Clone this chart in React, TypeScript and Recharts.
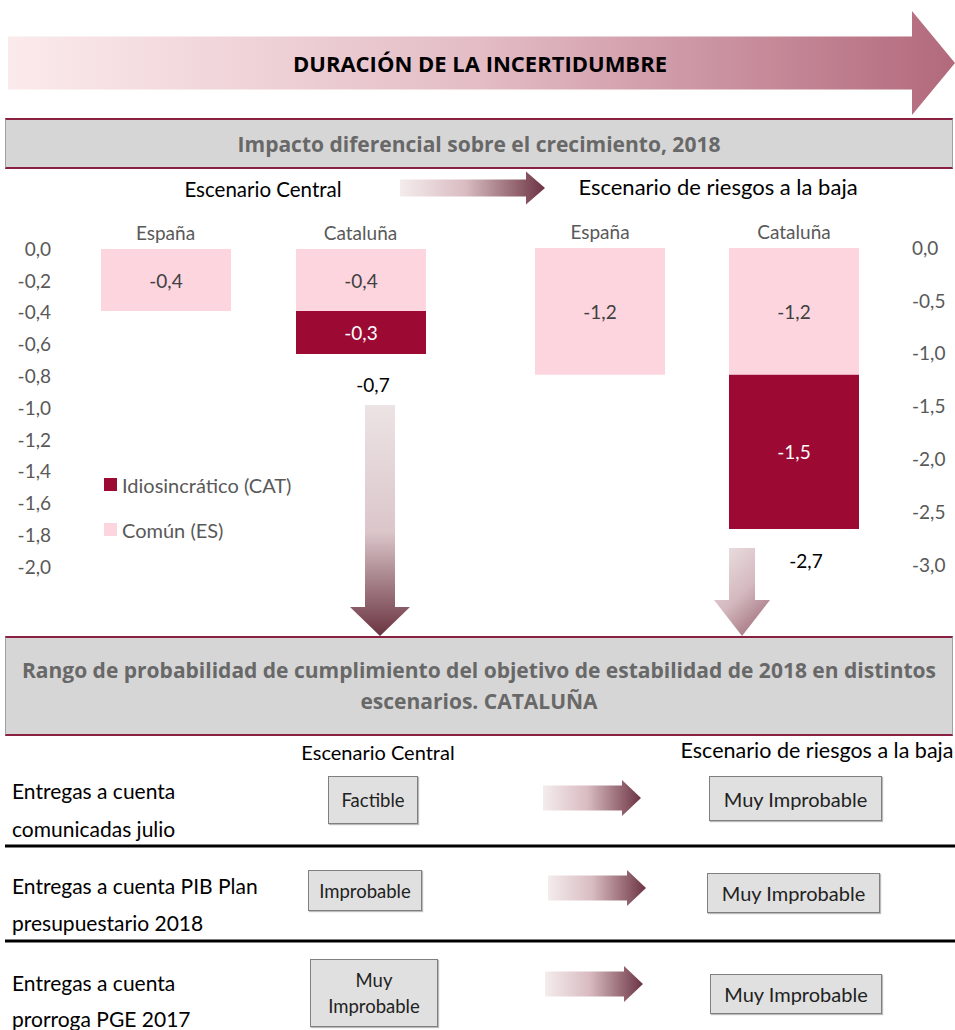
import { BarChart, Bar, XAxis, YAxis, LabelList, Legend } from 'recharts';

const FONT = 'Lato, "Open Sans", sans-serif';
const HEAD_FONT = '"Open Sans", Lato, sans-serif';
const PINK = '#fcd5df';
const WINE = '#9c0a33';
const GREY_TXT = '#595959';

// Impacto diferencial sobre el crecimiento, 2018 (pp)
const categories = ['España', 'Cataluña'];
const centralComun = [-0.39, -0.39];
const centralIdio = [null, -0.27];
const riesgosComun = [-1.2, -1.2];
const riesgosIdio = [null, -1.46];
const centralTicks = [0, -0.2, -0.4, -0.6, -0.8, -1, -1.2, -1.4, -1.6, -1.8, -2];
const riesgosTicks = [0, -0.5, -1, -1.5, -2, -2.5, -3];

const series = [
  { key: 'idio', name: 'Idiosincrático (CAT)', color: WINE },
  { key: 'comun', name: 'Común (ES)', color: PINK },
];

// Rango de probabilidad de cumplimiento del objetivo
const rowLabels = [
  ['Entregas a cuenta', 'comunicadas julio'],
  ['Entregas a cuenta PIB Plan', 'presupuestario 2018'],
  ['Entregas a cuenta', 'prorroga PGE 2017'],
];
const centralOutcome = ['Factible', 'Improbable', 'Muy\nImprobable'];
const riesgosOutcome = ['Muy Improbable', 'Muy Improbable', 'Muy Improbable'];

const fmt = (v: number | null | undefined) =>
  v == null ? '' : Number(v).toFixed(1).replace('.', ',');

const buildRows = (comun: (number | null)[], idio: (number | null)[]) =>
  categories.map((name, i) => ({
    name,
    comun: comun[i],
    idio: idio[i],
    total: idio[i] == null ? null : (comun[i] as number) + (idio[i] as number),
  }));

const centralData = buildRows(centralComun, centralIdio);
const riesgosData = buildRows(riesgosComun, riesgosIdio);

function box(p: any) {
  const vb = p.viewBox || p;
  return {
    x: Number(vb.x ?? p.x),
    y: Number(vb.y ?? p.y),
    w: Number(vb.width ?? p.width),
    h: Number(vb.height ?? p.height),
  };
}

const innerLabel = (color: string) => (p: any) => {
  if (p.value == null || p.value === 0) return null;
  const { x, y, w, h } = box(p);
  return (
    <text x={x + w / 2} y={y + h / 2} textAnchor="middle" dominantBaseline="central"
      fill={color} fontSize={19} fontFamily={FONT}>
      {fmt(p.value)}
    </text>
  );
};

const totalLabel = (p: any) => {
  if (p.value == null) return null;
  const { x, y, w, h } = box(p);
  const bottom = Math.max(y, y + h);
  return (
    <text x={x + w / 2 + 12} y={bottom + 31} textAnchor="middle" dominantBaseline="central"
      fill="#000" fontSize={19} fontFamily={FONT}>
      {fmt(p.value)}
    </text>
  );
};

const LegendBox = () => (
  <div style={{ fontFamily: FONT, fontSize: 20, color: GREY_TXT, textAlign: 'left' }}>
    {series.map((s) => (
      <div key={s.key} style={{ display: 'flex', alignItems: 'center', height: 45 }}>
        <span style={{ display: 'inline-block', width: 13, height: 13, background: s.color, marginRight: 5 }} />
        {s.name}
      </div>
    ))}
  </div>
);

const tickStyle = { fill: GREY_TXT, fontSize: 19, fontFamily: FONT };

function Bars() {
  return [
    <Bar key="comun" dataKey="comun" stackId="a" fill={PINK} barSize={130} isAnimationActive={false}>
      <LabelList dataKey="comun" content={innerLabel('#404040')} />
    </Bar>,
    <Bar key="idio" dataKey="idio" stackId="a" fill={WINE} barSize={130} isAnimationActive={false}>
      <LabelList dataKey="idio" content={innerLabel('#ffffff')} />
      <LabelList dataKey="total" content={totalLabel} />
    </Bar>,
  ];
}

function Arrow({ pts, fill }: { pts: number[][]; fill: string }) {
  return <polygon points={pts.map((p) => p.join(',')).join(' ')} fill={fill} />;
}

const hArrow = (x0: number, x1: number, yc: number, half: number, headHalf: number, headLen: number) => [
  [x0, yc - half], [x1 - headLen, yc - half], [x1 - headLen, yc - headHalf], [x1, yc],
  [x1 - headLen, yc + headHalf], [x1 - headLen, yc + half], [x0, yc + half],
];

const vArrow = (xc: number, y0: number, y1: number, half: number, headHalf: number, headLen: number) => [
  [xc - half, y0], [xc + half, y0], [xc + half, y1 - headLen], [xc + headHalf, y1 - headLen], [xc, y1],
  [xc - headHalf, y1 - headLen], [xc - half, y1 - headLen],
];

const grayBand: React.CSSProperties = {
  position: 'absolute', left: 5, width: 948, background: '#d6d6d6',
  borderTop: '2px solid #8a2040', borderBottom: '2px solid #8a2040',
  borderLeft: '1px solid #a0a0a0', borderRight: '1px solid #a0a0a0',
  display: 'flex', flexDirection: 'column', justifyContent: 'center', alignItems: 'center',
  fontFamily: HEAD_FONT, fontWeight: 700, color: '#686868', boxSizing: 'border-box',
};

const outcomeBox = (l: number, t: number, w: number, h: number, fs: number): React.CSSProperties => ({
  position: 'absolute', left: l, top: t, width: w, height: h, background: '#e0e0e0',
  border: '1.5px solid #7f7f7f', boxShadow: '1px 1px 1px #bbb', boxSizing: 'border-box',
  display: 'flex', alignItems: 'center', justifyContent: 'center', textAlign: 'center',
  whiteSpace: 'pre-line', fontFamily: FONT, fontSize: fs, color: '#222', lineHeight: '26px',
});

const centralBoxes = [[328, 776, 90, 48], [308, 870, 114, 41], [310, 959, 128, 68]];
const riesgosBoxes = [[709, 776, 173, 45], [707, 873, 173, 40], [710, 974, 172, 40]];
const rowArrows = [[543, 641, 798], [548, 646, 888], [545, 643, 984]];
const labelTops = [[790, 828], [885, 922], [982, 1018]];

export default function App() {
  return (
    <div style={{ position: 'absolute', left: 0, top: 0, width: 955, height: 1030, background: '#fff', overflow: 'hidden' }}>
      <svg width={955} height={1030} style={{ position: 'absolute', left: 0, top: 0 }}>
        <defs>
          <linearGradient id="gTop" x1="0" x2="1" y1="0" y2="0">
            <stop offset="0" stopColor="#fbeaec" />
            <stop offset="0.5" stopColor="#e3bcc5" />
            <stop offset="1" stopColor="#b2697c" />
          </linearGradient>
          <linearGradient id="gSide" x1="0" x2="1" y1="0" y2="0">
            <stop offset="0" stopColor="#f4eced" />
            <stop offset="0.45" stopColor="#d9bcc2" />
            <stop offset="1" stopColor="#6c3443" />
          </linearGradient>
          <linearGradient id="gDown" x1="0" x2="0" y1="0" y2="1">
            <stop offset="0" stopColor="#ece3e5" />
            <stop offset="0.55" stopColor="#dbc6ca" />
            <stop offset="1" stopColor="#6a3441" />
          </linearGradient>
          <linearGradient id="gDown2" x1="0" x2="0.6" y1="0" y2="1">
            <stop offset="0" stopColor="#ede3e5" />
            <stop offset="0.6" stopColor="#d4b9bf" />
            <stop offset="1" stopColor="#a87a85" />
          </linearGradient>
        </defs>
        <Arrow pts={hArrow(8, 955, 63, 26.5, 52, 43)} fill="url(#gTop)" />
        <Arrow pts={hArrow(400, 545, 188, 8.5, 16.5, 19)} fill="url(#gSide)" />
        <Arrow pts={vArrow(380, 405, 636, 15, 30, 29)} fill="url(#gDown)" />
        <Arrow pts={vArrow(742, 548, 636, 13, 28, 36)} fill="url(#gDown2)" />
        {rowArrows.map(([a, b, yc], i) => (
          <Arrow key={i} pts={hArrow(a, b, yc, 12.5, 18, 19)} fill="url(#gSide)" />
        ))}
        <text x={480} y={63} textAnchor="middle" dominantBaseline="central" fontFamily={HEAD_FONT}
          fontWeight={700} fontSize={22} fill="#000">DURACIÓN DE LA INCERTIDUMBRE</text>
        <text x={263} y={189} textAnchor="middle" dominantBaseline="central" fontFamily={FONT}
          fontSize={20.5} fill="#000">Escenario Central</text>
        <text x={718} y={186} textAnchor="middle" dominantBaseline="central" fontFamily={FONT}
          fontSize={22} fill="#000">Escenario de riesgos a la baja</text>
        <text x={378} y={752} textAnchor="middle" dominantBaseline="central" fontFamily={FONT}
          fontSize={20} fill="#000">Escenario Central</text>
        <text x={817} y={750} textAnchor="middle" dominantBaseline="central" fontFamily={FONT}
          fontSize={21.5} fill="#000">Escenario de riesgos a la baja</text>
        {rowLabels.map((lines, i) =>
          lines.map((t, j) => (
            <text key={`${i}-${j}`} x={12} y={labelTops[i][j]} dominantBaseline="central"
              fontFamily={FONT} fontSize={21} fill="#000">{t}</text>
          ))
        )}
        <line x1={5} x2={955} y1={846} y2={846} stroke="#000" strokeWidth={3} />
        <line x1={5} x2={955} y1={941} y2={941} stroke="#000" strokeWidth={3} />
      </svg>

      <div style={{ ...grayBand, top: 118, height: 51, fontSize: 21 }}>
        Impacto diferencial sobre el crecimiento, 2018
      </div>
      <div style={{ ...grayBand, top: 636, height: 100, fontSize: 21, lineHeight: '31px', textAlign: 'center' }}>
        <div>Rango de probabilidad  de cumplimiento del objetivo de estabilidad  de 2018 en distintos</div>
        <div>escenarios. CATALUÑA</div>
      </div>

      <div style={{ position: 'absolute', left: 0, top: 210 }}>
        <BarChart width={470} height={377} data={centralData}
          margin={{ top: 9, right: 12, left: 0, bottom: 20 }}>
          <XAxis dataKey="name" orientation="top" height={30} axisLine={false} tickLine={false}
            tickSize={0} tickMargin={9} tick={tickStyle} interval={0} />
          <YAxis width={68} domain={[-2, 0]} ticks={centralTicks} interval={0} tickFormatter={fmt}
            axisLine={false} tickLine={false} tickSize={0} tickMargin={17} tick={tickStyle} />
          <Legend layout="horizontal" verticalAlign="middle" align="center" content={LegendBox}
            wrapperStyle={{ left: 104, top: 252, width: 260 }} />
          {Bars()}
        </BarChart>
      </div>

      <div style={{ position: 'absolute', left: 480, top: 210 }}>
        <BarChart width={473} height={375} data={riesgosData}
          margin={{ top: 8, right: 0, left: 23, bottom: 20 }}>
          <XAxis dataKey="name" orientation="top" height={30} axisLine={false} tickLine={false}
            tickSize={0} tickMargin={9} tick={tickStyle} interval={0} />
          <YAxis orientation="right" width={62} domain={[-3, 0]} ticks={riesgosTicks} interval={0}
            tickFormatter={fmt} axisLine={false} tickLine={false} tickSize={0} tickMargin={21}
            tick={tickStyle} />
          {Bars()}
        </BarChart>
      </div>

      {centralOutcome.map((t, i) => {
        const [l, tp, w, h] = centralBoxes[i];
        return <div key={`c${i}`} style={outcomeBox(l, tp, w, h, 18.5)}>{t}</div>;
      })}
      {riesgosOutcome.map((t, i) => {
        const [l, tp, w, h] = riesgosBoxes[i];
        return <div key={`r${i}`} style={outcomeBox(l, tp, w, h, 20)}>{t}</div>;
      })}
    </div>
  );
}
